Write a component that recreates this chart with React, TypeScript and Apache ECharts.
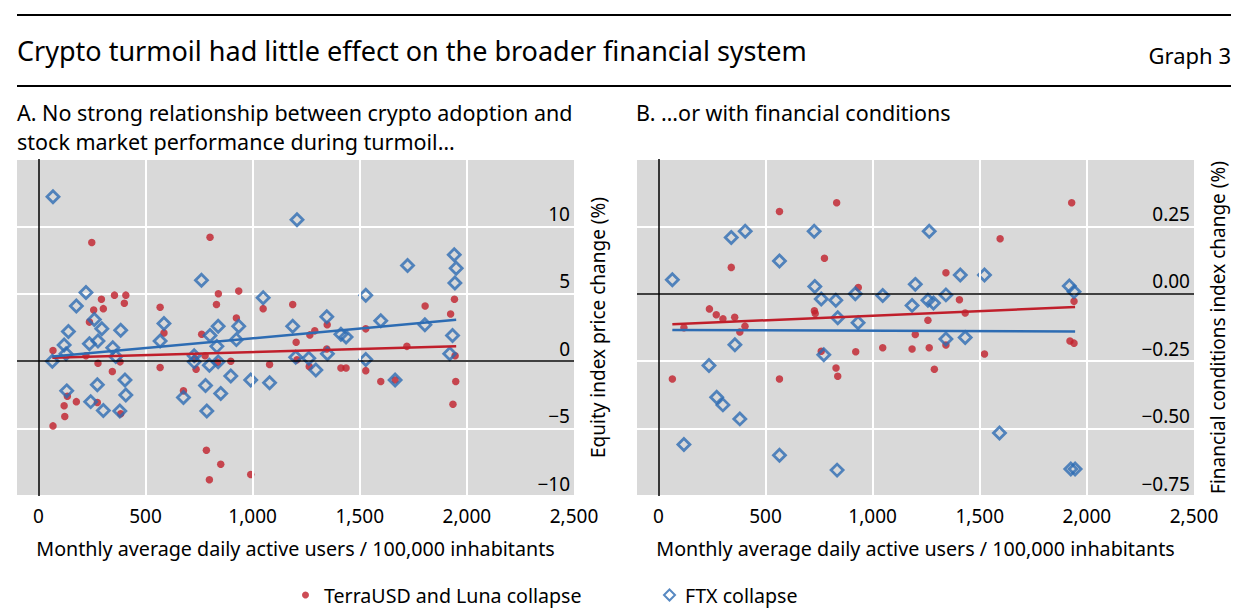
import { useEffect, useRef } from 'react';
import * as echarts from 'echarts';

const FONT = '"Noto Sans", "Open Sans", sans-serif';
const RED = '#c01f2b';
const BLUE = '#2d6cb3';
const GREY = '#d9d9d9';

// Panel A: equity index price change (%) vs monthly average daily active users / 100,000 inhabitants
const terraEquity: [number, number][] = [
  [68, 0.8], [249, 8.8], [801, 9.2], [294, 4.6], [355, 4.9], [408, 4.9], [401, 4.3], [258, 3.8],
  [303, 3.9], [238, 2.9], [568, 4.0], [840, 5.0], [935, 5.2], [831, 4.2], [924, 3.2], [586, 2.1],
  [762, 2.0], [1049, 3.9], [1187, 4.2], [1203, 1.4], [1267, 1.95], [1942, 4.6], [1805, 4.1],
  [1924, 3.5], [1348, 2.7], [1528, 2.4], [1290, 2.25], [1720, 1.1], [1346, 0.9], [222, 0.4],
  [278, -0.15], [381, -0.05], [345, -0.76], [568, -0.47], [731, 0.2], [778, 0.4], [736, -0.6],
  [836, -0.07], [898, 0.0], [1079, -0.25], [1207, 0.1], [1264, -0.4], [677, -2.2], [135, -2.6],
  [120, -3.3], [177, -3.0], [123, -4.1], [68, -4.8], [275, -3.06], [384, -3.9], [784, -6.6],
  [851, -7.65], [798, -8.8], [991, -8.4], [1412, -0.5], [1436, -0.5], [1528, -0.7], [1598, -1.5],
  [1665, -1.4], [1945, 0.4], [1948, -1.5], [1935, -3.2],
];
const ftxEquity: [number, number][] = [
  [68, 12.2], [1207, 10.5], [761, 6.0], [222, 5.1], [177, 4.1], [1049, 4.7], [261, 3.1], [140, 2.2],
  [296, 2.4], [384, 2.3], [586, 2.8], [839, 2.6], [935, 2.6], [1187, 2.6], [120, 1.2], [238, 1.3],
  [278, 1.5], [347, 1.0], [568, 1.5], [801, 1.9], [833, 1.1], [924, 1.6], [1941, 7.9], [1723, 7.1],
  [1950, 6.9], [1944, 5.8], [1528, 4.9], [1346, 3.3], [1598, 3.0], [1804, 2.7], [1412, 2.0],
  [1436, 1.8], [1933, 1.9], [65, 0.0], [129, 0.55], [361, 0.35], [727, 0.4], [727, -0.05],
  [798, -0.3], [839, -0.05], [275, -1.75], [404, -1.4], [408, -2.5], [244, -3.0], [303, -3.65],
  [380, -3.7], [132, -2.2], [677, -2.7], [780, -1.8], [851, -2.4], [898, -1.1], [786, -3.7],
  [991, -1.4], [1079, -1.6], [1201, 0.3], [1262, 0.22], [1295, -0.65], [1349, 0.55], [1528, 0.13],
  [1665, -1.4], [1920, 0.55],
];
const terraEquityTrend: [number, number][] = [[65, 0.25], [1950, 1.1]];
const ftxEquityTrend: [number, number][] = [[65, 0.35], [1950, 3.07]];

// Panel B: financial conditions index change (%)
const terraFci: [number, number][] = [
  [565, 0.305], [832, 0.338], [340, 0.098], [775, 0.132], [933, 0.023], [238, -0.056], [270, -0.078],
  [301, -0.093], [356, -0.087], [404, -0.12], [380, -0.142], [119, -0.126], [728, -0.063],
  [732, -0.073], [1258, -0.098], [1199, -0.151], [1047, -0.2], [1184, -0.205], [1264, -0.2],
  [1929, 0.338], [1595, 0.204], [1342, 0.078], [1405, -0.022], [1432, -0.071], [1940, -0.028],
  [1921, -0.175], [1940, -0.183], [1342, -0.19], [65, -0.316], [565, -0.316], [760, -0.213],
  [921, -0.215], [829, -0.275], [837, -0.306], [1288, -0.28], [1522, -0.223],
];
const ftxFci: [number, number][] = [
  [65, 0.052], [340, 0.209], [405, 0.232], [565, 0.122], [727, 0.232], [1264, 0.232], [730, 0.027],
  [760, -0.019], [828, -0.024], [919, 0.0], [1047, -0.006], [1199, 0.035], [1184, -0.043],
  [1258, -0.024], [1284, -0.034], [837, -0.089], [932, -0.107], [357, -0.189], [1409, 0.07],
  [1522, 0.07], [1918, 0.029], [1940, 0.008], [1342, -0.004], [1342, -0.168], [1432, -0.162],
  [772, -0.226], [236, -0.266], [272, -0.384], [301, -0.412], [380, -0.464], [119, -0.559],
  [565, -0.599], [834, -0.654], [1592, -0.516], [1925, -0.65], [1945, -0.65],
];
const terraFciTrend: [number, number][] = [[65, -0.113], [1945, -0.049]];
const ftxFciTrend: [number, number][] = [[65, -0.134], [1945, -0.14]];

const xLabelValues = [0, 500, 1000, 1500, 2000, 2500];
const xTickValues = [500, 1000, 1500, 2000];
const xGridValues = [500, 1000, 1500, 2000];

const TITLE = 'Crypto turmoil had little effect on the broader financial system';
const GRAPH_NO = 'Graph 3';
const SUB_A1 = 'A. No strong relationship between crypto adoption and';
const SUB_A2 = 'stock market performance during turmoil…';
const SUB_B = 'B. …or with financial conditions';
const X_NAME = 'Monthly average daily active users / 100,000 inhabitants';
const Y_NAME_A = 'Equity index price change (%)';
const Y_NAME_B = 'Financial conditions index change (%)';
const TERRA = 'TerraUSD and Luna collapse';
const FTX = 'FTX collapse';

const minus = (s: string) => s.replace('-', '\u2212');

function xAxisFor(gridIndex: number) {
  return {
    type: 'value',
    gridIndex,
    min: -100,
    max: 2500,
    name: X_NAME,
    nameLocation: 'middle',
    nameGap: 42,
    nameTextStyle: { fontFamily: FONT, fontSize: 19.7, color: '#000' },
    axisLine: { show: false },
    splitLine: { show: false },
    axisTick: {
      show: true,
      inside: true,
      length: 13,
      customValues: xTickValues,
      lineStyle: { color: '#000', width: 1.5 },
    },
    axisLabel: {
      customValues: xLabelValues,
      margin: 10,
      fontFamily: FONT,
      fontSize: 19,
      color: '#000',
      formatter: (v: number) => v.toLocaleString('en-US'),
    },
  };
}

function yAxisFor(gridIndex: number, min: number, max: number, interval: number, name: string, digits: number) {
  return {
    type: 'value',
    gridIndex,
    position: 'right',
    min,
    max,
    interval,
    name,
    nameLocation: 'middle',
    nameRotate: 90,
    nameGap: 14,
    nameTextStyle: { fontFamily: FONT, fontSize: 19, color: '#000' },
    axisLine: { show: false },
    axisTick: { show: false },
    splitLine: { show: true, lineStyle: { color: '#fff', width: 2 } },
    axisLabel: {
      inside: true,
      margin: 4,
      showMaxLabel: false,
      verticalAlign: 'bottom',
      padding: [0, 0, 3, 0],
      fontFamily: FONT,
      fontSize: 19,
      color: '#000',
      formatter: (v: number) => minus(v.toFixed(digits)),
    },
  };
}

function guides(i: number) {
  return {
    type: 'scatter',
    xAxisIndex: i,
    yAxisIndex: i,
    data: [],
    silent: true,
    z: 1,
    markLine: {
      silent: true,
      symbol: ['none', 'none'],
      label: { show: false },
      animation: false,
      data: [
        ...xGridValues.map((v) => ({ xAxis: v, lineStyle: { color: '#fff', width: 2, type: 'solid' } })),
        { xAxis: 0, lineStyle: { color: '#000', width: 1.5, type: 'solid' } },
        { yAxis: 0, lineStyle: { color: '#000', width: 1.5, type: 'solid' } },
      ],
    },
  };
}

function terraSeries(i: number, data: [number, number][]) {
  return {
    name: TERRA,
    type: 'scatter',
    xAxisIndex: i,
    yAxisIndex: i,
    data,
    symbol: 'circle',
    symbolSize: 7.5,
    itemStyle: { color: RED },
    z: 3,
    silent: true,
  };
}

function ftxSeries(i: number, data: [number, number][]) {
  return {
    name: FTX,
    type: 'scatter',
    xAxisIndex: i,
    yAxisIndex: i,
    data,
    symbol: 'diamond',
    symbolSize: 12,
    itemStyle: { color: 'rgba(0,0,0,0)', borderColor: BLUE, borderWidth: 2.8 },
    z: 4,
    silent: true,
  };
}

function trend(i: number, data: [number, number][], color: string) {
  return {
    type: 'line',
    xAxisIndex: i,
    yAxisIndex: i,
    data,
    symbol: 'none',
    lineStyle: { color, width: 2.5 },
    z: 5,
    silent: true,
  };
}

const subStyle = { fontFamily: FONT, fontSize: 21.5, fontWeight: 'normal', color: '#000', lineHeight: 26 };

export default function App() {
  const ref = useRef<HTMLDivElement>(null);
  useEffect(() => {
    if (!ref.current) return;
    const chart = echarts.init(ref.current, null, { renderer: 'svg' });
    chart.setOption({
      animation: false,
      backgroundColor: '#fff',
      textStyle: { fontFamily: FONT },
      title: [
        { text: TITLE, left: 17, top: 37, padding: 0, textStyle: { fontFamily: FONT, fontSize: 27, fontWeight: 'normal', color: '#000' } },
        { text: GRAPH_NO, right: 11, top: 44, padding: 0, textStyle: { fontFamily: FONT, fontSize: 22, fontWeight: 'normal', color: '#000' } },
        { text: SUB_A1, left: 17, top: 99, padding: 0, textStyle: subStyle },
        { text: SUB_A2, left: 17, top: 128, padding: 0, textStyle: subStyle },
        { text: SUB_B, left: 636, top: 99, padding: 0, textStyle: subStyle },
      ],
      graphic: [
        { type: 'line', shape: { x1: 17, y1: 15, x2: 1231, y2: 15 }, style: { stroke: '#000', lineWidth: 2 } },
        { type: 'line', shape: { x1: 17, y1: 86, x2: 1231, y2: 86 }, style: { stroke: '#000', lineWidth: 2 } },
      ],
      legend: [
        {
          data: [{ name: TERRA, icon: 'circle' }],
          left: 297,
          top: 580,
          itemWidth: 7,
          itemHeight: 7,
          selectedMode: false,
          textStyle: { fontFamily: FONT, fontSize: 19.6, color: '#000', padding: [0, 0, 0, 10] },
        },
        {
          data: [{ name: FTX, icon: 'diamond' }],
          left: 658,
          top: 580,
          itemWidth: 11,
          itemHeight: 11,
          selectedMode: false,
          textStyle: { fontFamily: FONT, fontSize: 19.6, color: '#000', padding: [0, 0, 0, 5] },
        },
      ],
      grid: [
        { left: 17, top: 159, width: 557, height: 337, show: true, backgroundColor: GREY, borderWidth: 0 },
        { left: 637, top: 159, width: 557, height: 337, show: true, backgroundColor: GREY, borderWidth: 0 },
      ],
      xAxis: [xAxisFor(0), xAxisFor(1)],
      yAxis: [
        yAxisFor(0, -10, 15, 5, Y_NAME_A, 0),
        yAxisFor(1, -0.75, 0.5, 0.25, Y_NAME_B, 2),
      ],
      series: [
        guides(0),
        guides(1),
        terraSeries(0, terraEquity),
        ftxSeries(0, ftxEquity),
        trend(0, terraEquityTrend, RED),
        trend(0, ftxEquityTrend, BLUE),
        terraSeries(1, terraFci),
        ftxSeries(1, ftxFci),
        trend(1, terraFciTrend, RED),
        trend(1, ftxFciTrend, BLUE),
      ],
    });
    return () => chart.dispose();
  }, []);
  return <div ref={ref} style={{ position: 'fixed', left: 0, top: 0, width: 1242, height: 616 }} />;
}
